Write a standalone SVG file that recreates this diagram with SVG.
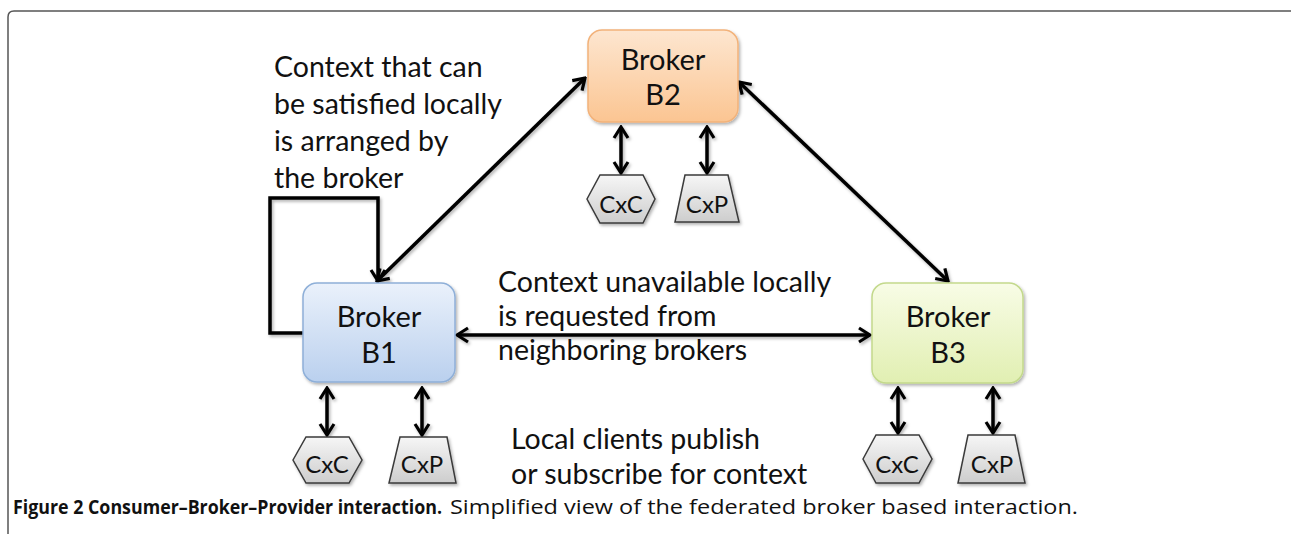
<svg xmlns="http://www.w3.org/2000/svg" width="1291" height="534" viewBox="0 0 1291 534">
  <style>
    .lbl { font-family: Lato, "Open Sans", sans-serif; fill: #111; }
    .bk { font-size: 29px; text-anchor: middle; }
    .cx { font-size: 24px; text-anchor: middle; }
    .note { font-size: 28.5px; }
    .cap { font-family: "Open Sans", "Liberation Sans", sans-serif; font-size: 20px; fill: #111; }
    .conn { fill: none; stroke: #000; stroke-width: 3.5; }
    .leaf { stroke: #3a3a3a; stroke-width: 1.5; fill: url(#gGray); }
  </style>
  <defs>
    <linearGradient id="gOrange" x1="0" y1="0" x2="0" y2="1">
      <stop offset="0" stop-color="#fde6d0"/>
      <stop offset="1" stop-color="#fbc592"/>
    </linearGradient>
    <linearGradient id="gBlue" x1="0" y1="0" x2="0" y2="1">
      <stop offset="0" stop-color="#eaf1fb"/>
      <stop offset="1" stop-color="#bad0ee"/>
    </linearGradient>
    <linearGradient id="gGreen" x1="0" y1="0" x2="0" y2="1">
      <stop offset="0" stop-color="#f8fce6"/>
      <stop offset="1" stop-color="#e1efb2"/>
    </linearGradient>
    <linearGradient id="gGray" x1="0" y1="0" x2="0" y2="1">
      <stop offset="0" stop-color="#f6f6f6"/>
      <stop offset="1" stop-color="#cdcdcd"/>
    </linearGradient>
    <filter id="shadow" x="-20%" y="-20%" width="140%" height="140%">
      <feDropShadow dx="1.5" dy="2" stdDeviation="1.5" flood-color="#000" flood-opacity="0.3"/>
    </filter>
    <marker id="arrow" viewBox="-14 -10 16 20" refX="0" refY="0" markerWidth="16" markerHeight="20" markerUnits="userSpaceOnUse" orient="auto-start-reverse">
      <path d="M-11,-7 L0,0 L-11,7" fill="none" stroke="#000" stroke-width="3.2"/>
    </marker>
  </defs>

  <rect width="1291" height="534" fill="#fff"/>

  <!-- figure frame -->
  <path d="M8,534 V17 Q8,11 14,11 H1291" fill="none" stroke="#555" stroke-width="1.5"/>

  <!-- connectors -->
  <g id="connectors" filter="url(#shadow)">
    <line class="conn" x1="377" y1="281" x2="585" y2="78" marker-start="url(#arrow)" marker-end="url(#arrow)"/>
    <line class="conn" x1="739" y1="82" x2="948" y2="281" marker-start="url(#arrow)" marker-end="url(#arrow)"/>
    <line class="conn" x1="457" y1="335" x2="870" y2="335" marker-start="url(#arrow)" marker-end="url(#arrow)"/>
    <path class="conn" d="M303,333 H270 V198 H378 V281" marker-end="url(#arrow)"/>
    <line class="conn" x1="621" y1="127" x2="621" y2="173" marker-start="url(#arrow)" marker-end="url(#arrow)"/>
    <line class="conn" x1="707" y1="127" x2="707" y2="173" marker-start="url(#arrow)" marker-end="url(#arrow)"/>
    <line class="conn" x1="327" y1="388" x2="327" y2="435" marker-start="url(#arrow)" marker-end="url(#arrow)"/>
    <line class="conn" x1="422" y1="388" x2="422" y2="435" marker-start="url(#arrow)" marker-end="url(#arrow)"/>
    <line class="conn" x1="898" y1="388" x2="898" y2="433" marker-start="url(#arrow)" marker-end="url(#arrow)"/>
    <line class="conn" x1="993" y1="388" x2="993" y2="433" marker-start="url(#arrow)" marker-end="url(#arrow)"/>
  </g>

  <!-- brokers -->
  <g id="broker-b2">
    <rect x="588" y="30" width="150" height="92" rx="14" fill="url(#gOrange)" stroke="#f2b27a" stroke-width="1.5" filter="url(#shadow)"/>
    <text class="lbl bk" x="663" y="70">Broker</text>
    <text class="lbl bk" x="663" y="105">B2</text>
  </g>
  <g id="broker-b1">
    <rect x="303" y="283" width="152" height="99" rx="14" fill="url(#gBlue)" stroke="#8eafd8" stroke-width="1.5" filter="url(#shadow)"/>
    <text class="lbl bk" x="379" y="327">Broker</text>
    <text class="lbl bk" x="379" y="363">B1</text>
  </g>
  <g id="broker-b3">
    <rect x="872" y="283" width="151" height="100" rx="14" fill="url(#gGreen)" stroke="#c3d98c" stroke-width="1.5" filter="url(#shadow)"/>
    <text class="lbl bk" x="948" y="327">Broker</text>
    <text class="lbl bk" x="948" y="363">B3</text>
  </g>

  <!-- consumers and providers -->
  <g id="b2-cxc">
    <polygon class="leaf" points="587,199 600,175 643,175 655,199 643,223 600,223" filter="url(#shadow)"/>
    <text class="lbl cx" x="621" y="213">CxC</text>
  </g>
  <g id="b2-cxp">
    <polygon class="leaf" points="685,175 728,175 739,222 675,222" filter="url(#shadow)"/>
    <text class="lbl cx" x="707" y="213">CxP</text>
  </g>
  <g id="b1-cxc">
    <polygon class="leaf" points="293,460 306,437 349,437 362,460 349,483 306,483" filter="url(#shadow)"/>
    <text class="lbl cx" x="327" y="473">CxC</text>
  </g>
  <g id="b1-cxp">
    <polygon class="leaf" points="400,437 447,437 456,483 389,483" filter="url(#shadow)"/>
    <text class="lbl cx" x="422" y="473">CxP</text>
  </g>
  <g id="b3-cxc">
    <polygon class="leaf" points="863,459 876,435 919,435 932,459 919,483 876,483" filter="url(#shadow)"/>
    <text class="lbl cx" x="897" y="473">CxC</text>
  </g>
  <g id="b3-cxp">
    <polygon class="leaf" points="968,435 1015,435 1025,483 958,483" filter="url(#shadow)"/>
    <text class="lbl cx" x="992" y="473">CxP</text>
  </g>

  <!-- annotations -->
  <g id="note-local">
    <text class="lbl note" x="274" y="77">Context that can</text>
    <text class="lbl note" x="274" y="114">be satisfied locally</text>
    <text class="lbl note" x="274" y="151">is arranged by</text>
    <text class="lbl note" x="274" y="188">the broker</text>
  </g>
  <g id="note-remote">
    <text class="lbl note" x="498" y="292">Context unavailable locally</text>
    <text class="lbl note" x="498" y="326">is requested from</text>
    <text class="lbl note" x="498" y="360">neighboring brokers</text>
  </g>
  <g id="note-clients">
    <text class="lbl note" x="511" y="449">Local clients publish</text>
    <text class="lbl note" x="511" y="484">or subscribe for context</text>
  </g>

  <!-- caption -->
  <text class="cap" x="13" y="514" font-weight="bold" textLength="429" lengthAdjust="spacingAndGlyphs">Figure 2 Consumer–Broker–Provider interaction.</text>
  <text class="cap" x="450" y="514" textLength="628" lengthAdjust="spacingAndGlyphs">Simplified view of the federated broker based interaction.</text>
</svg>
